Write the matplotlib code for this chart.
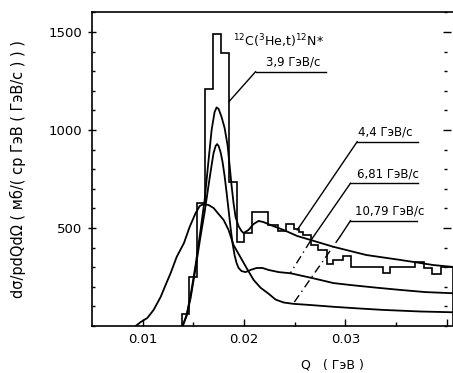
import matplotlib
matplotlib.use("Agg")
import matplotlib.pyplot as plt
from matplotlib.ticker import MultipleLocator, FixedLocator

plt.rcParams['font.family'] = ['DejaVu Sans']

# Experimental histogram (bin edges in GeV, counts)
hist_edges = [0.0139, 0.0146, 0.0154, 0.0161, 0.0169, 0.0177, 0.0185, 0.0193,
              0.0200, 0.0208, 0.0224, 0.0233, 0.0241, 0.0249, 0.0254, 0.0258,
              0.0266, 0.0273, 0.0282, 0.0288, 0.0298, 0.0305, 0.0337, 0.0344,
              0.0369, 0.0377, 0.0385, 0.0394, 0.0406]
hist_vals = [60, 250, 626, 1209, 1490, 1391, 736, 430,
             473, 583, 515, 485, 520, 495, 480, 464,
             413, 388, 318, 337, 357, 302, 272, 302,
             328, 298, 265, 300]

# 4.4 GeV/c curve
q_44 = [0.01394, 0.01433, 0.01473, 0.01522, 0.01571, 0.01611, 0.01650, 0.01680,
        0.01709, 0.01729, 0.01749, 0.01778, 0.01808, 0.01837, 0.01857, 0.01876,
        0.01896, 0.01916, 0.01945, 0.01975, 0.01995, 0.02044, 0.02093, 0.02143,
        0.02192, 0.02261, 0.02389, 0.02524, 0.02655, 0.02881, 0.03206, 0.03541,
        0.03866, 0.04063]
v_44 = [0, 56, 158, 311, 490, 643, 847, 1000,
        1091, 1115, 1107, 1066, 1010, 923, 821, 719,
        627, 556, 510, 484, 474, 490, 520, 536,
        530, 515, 490, 459, 439, 404, 362, 337,
        311, 301]

# 6.81 GeV/c curve
q_681 = [0.01394, 0.01433, 0.01473, 0.01522, 0.01571, 0.01611, 0.01650, 0.01680,
         0.01699, 0.01719, 0.01734, 0.01749, 0.01768, 0.01788, 0.01808, 0.01827,
         0.01847, 0.01867, 0.01886, 0.01906, 0.01926, 0.01946, 0.01975, 0.02015,
         0.02064, 0.02123, 0.02182, 0.02241, 0.02340, 0.02458, 0.02685, 0.02881,
         0.03049, 0.03295, 0.03541, 0.03787, 0.04063]
v_681 = [0, 51, 143, 296, 459, 581, 719, 821,
         882, 918, 928, 918, 887, 836, 765, 683,
         592, 500, 423, 362, 321, 296, 280, 275,
         286, 296, 296, 286, 275, 269, 243, 219,
         209, 196, 184, 173, 167]

# 10.79 GeV/c curve
q_1079 = [0.00931, 0.00980, 0.01046, 0.01108, 0.01177, 0.01243, 0.01276, 0.01335,
          0.01407, 0.01463, 0.01522, 0.01562, 0.01601, 0.01650, 0.01699, 0.01749,
          0.01798, 0.01847, 0.01896, 0.01965, 0.02031, 0.02094, 0.02163, 0.02241,
          0.02310, 0.02389, 0.02487, 0.02655, 0.02881, 0.03147, 0.03374, 0.03738,
          0.04063]
v_1079 = [0, 20, 41, 82, 148, 230, 270, 352,
          423, 505, 576, 612, 622, 617, 602, 571,
          541, 490, 413, 350, 290, 235, 195, 165,
          135, 120, 113, 107, 98, 89, 82, 74,
          70]

fig = plt.figure(figsize=(4.53, 3.73), dpi=100)
ax = fig.add_axes([0.203, 0.126, 0.797, 0.842])

ax.stairs(hist_vals, hist_edges, color='black', lw=1.2)
ax.plot(q_44, v_44, color='black', lw=1.3)
ax.plot(q_681, v_681, color='black', lw=1.3)
ax.plot(q_1079, v_1079, color='black', lw=1.3)

ax.set_xlim(0.005, 0.0406)
ax.set_ylim(0, 1602)

# labels with underlines and leader lines
def tag(text, xt, x0, x1, y, tip, mid=None):
    ax.text(xt, y + 15, text, ha='left', va='bottom', fontsize=8.5)
    ax.plot([x0, x1], [y, y], color='black', lw=1.0)
    if mid is None:
        ax.plot([x0, tip[0]], [y, tip[1]], color='black', lw=1.0)
    else:
        ax.plot([x0, mid[0]], [y, mid[1]], color='black', lw=1.0)
        ax.plot([mid[0], tip[0]], [mid[1], tip[1]], color='black', lw=1.0,
                linestyle=(0, (6, 3, 1, 3)))

tag('3,9 ГэВ/с', 0.02212, 0.02113, 0.02812, 1297, (0.01850, 1144))
tag('4,4 ГэВ/с', 0.03125, 0.03115, 0.03719, 940, (0.02524, 490))
tag('6,81 ГэВ/с', 0.03115, 0.03049, 0.03719, 728, (0.02455, 269), mid=(0.02655, 434))
tag('10,79 ГэВ/с', 0.03098, 0.03049, 0.03706, 537, (0.02487, 116), mid=(0.02950, 459))

ax.text(0.0234, 1453, r'$^{12}$C($^{3}$He,t)$^{12}$N*', ha='center', va='center',
        fontsize=9)

# axes styling
ax.spines['right'].set_position(('data', 0.04))
ax.spines['right'].set_color('none')
for s in ['left', 'top', 'bottom']:
    ax.spines[s].set_linewidth(1.2)

ax.xaxis.set_major_locator(FixedLocator([0.01, 0.02, 0.03, 0.04]))
ax.xaxis.set_minor_locator(FixedLocator([0.015, 0.025, 0.035]))
ax.set_xticklabels(['0.01', '0.02', '0.03', ''])
ax.yaxis.set_major_locator(FixedLocator([500, 1000, 1500]))
ax.yaxis.set_minor_locator(MultipleLocator(100))

ax.tick_params(axis='x', which='major', direction='in', length=5, width=1, labelsize=9.5, pad=5)
ax.tick_params(axis='x', which='minor', direction='in', length=3, width=1)
ax.tick_params(axis='y', which='major', direction='inout', length=6, width=1,
               labelsize=9.5, pad=4, right=True)
ax.tick_params(axis='y', which='minor', direction='in', length=2.5, width=1, right=True)

ax.set_ylabel('dσ/pdQdΩ ( мб/( ср ГэВ ( ГэВ/с ) ) )', fontsize=10.5)
ax.yaxis.set_label_coords(-0.183, 0.5)
ax.set_xlabel('Q   ( ГэВ )', fontsize=9)
ax.xaxis.set_label_coords(0.665, -0.105)

fig.savefig('out.png', dpi=100)
